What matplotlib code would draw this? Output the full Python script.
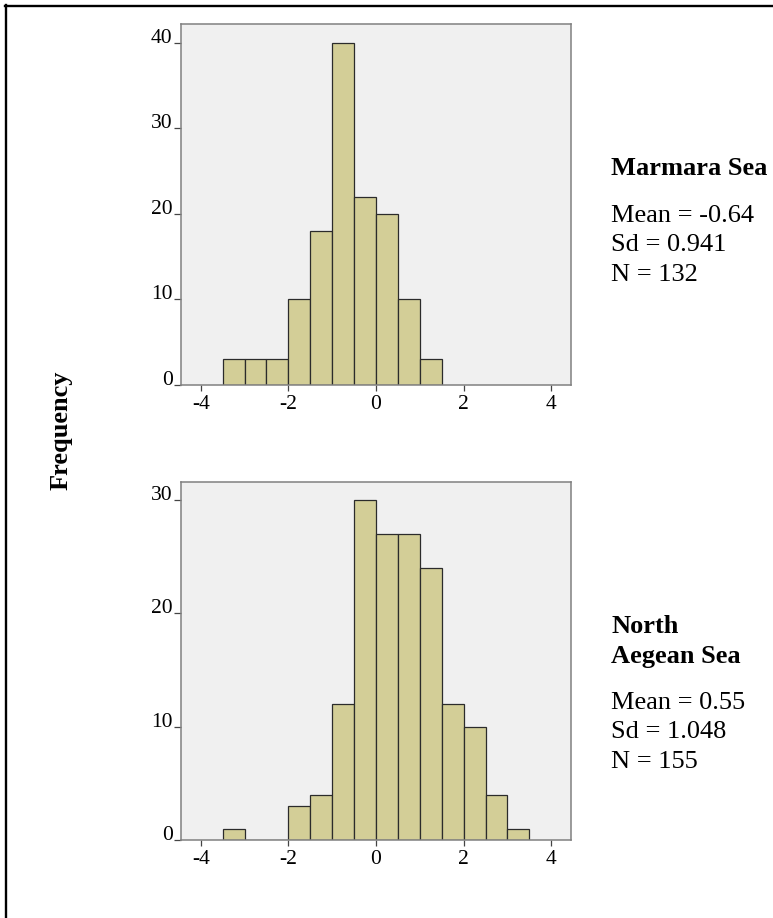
import matplotlib
matplotlib.use('Agg')
import matplotlib.pyplot as plt
from matplotlib.lines import Line2D

plt.rcParams['font.family'] = ['Liberation Serif', 'DejaVu Serif']

# histogram bins (left edges) and counts
marmara_bins = [-3.5, -3.0, -2.5, -2.0, -1.5, -1.0, -0.5, 0.0, 0.5, 1.0]
marmara_counts = [3, 3, 3, 10, 18, 40, 22, 20, 10, 3]

aegean_bins = [-3.5, -3.0, -2.5, -2.0, -1.5, -1.0, -0.5, 0.0, 0.5, 1.0, 1.5, 2.0, 2.5, 3.0]
aegean_counts = [1, 0, 0, 3, 4, 12, 30, 27, 27, 24, 12, 10, 4, 1]

bin_width = 0.5
x_ticks = [-4, -2, 0, 2, 4]
marmara_yticks = [0, 10, 20, 30, 40]
aegean_yticks = [0, 10, 20, 30]

marmara_title = ['Marmara Sea']
marmara_stats = ['Mean = -0.64', 'Sd = 0.941', 'N = 132']
aegean_title = ['North', 'Aegean Sea']
aegean_stats = ['Mean = 0.55', 'Sd = 1.048', 'N = 155']

W, H = 773, 918
fig = plt.figure(figsize=(W / 100, H / 100), dpi=100)
fig.patch.set_facecolor('white')

bar_color = '#d3ce97'
spine_color = '#808080'


def setup_axes(ax, bins, counts, yticks, ytop):
    ax.set_facecolor('#f0f0f0')
    ax.bar(bins, counts, width=bin_width, align='edge', color=bar_color,
           edgecolor='#2b2b2b', linewidth=0.9, zorder=2)
    ax.set_xlim(-4.45, 4.45)
    ax.set_ylim(0, ytop)
    ax.set_xticks(x_ticks)
    ax.set_xticklabels([str(t) for t in x_ticks])
    ax.set_yticks(yticks)
    ax.set_yticklabels([str(t) for t in yticks])
    for s in ax.spines.values():
        s.set_color(spine_color)
        s.set_linewidth(1.1)
    ax.tick_params(axis='both', labelsize=15.5, color='#444444', width=0.9)
    ax.tick_params(axis='x', length=4.5, pad=2.5)
    ax.tick_params(axis='y', length=5, pad=1)
    for lbl in ax.get_yticklabels():
        lbl.set_verticalalignment('baseline')


ax1 = fig.add_axes([181 / W, 1 - 385 / H, 390 / W, 361 / H])
setup_axes(ax1, marmara_bins, marmara_counts, marmara_yticks, 42.2)

ax2 = fig.add_axes([181 / W, 1 - 840 / H, 390 / W, 358 / H])
setup_axes(ax2, aegean_bins, aegean_counts, aegean_yticks, 31.6)

# side annotations
tx = 611 / W


def side_text(title_lines, title_y, stats, stats_y):
    for i, s in enumerate(title_lines):
        fig.text(tx, 1 - (title_y + 30 * i) / H, s, fontsize=19, fontweight='bold',
                 va='baseline', ha='left')
    for i, s in enumerate(stats):
        fig.text(tx, 1 - (stats_y + 29.3 * i) / H, s, fontsize=19,
                 va='baseline', ha='left')


side_text(marmara_title, 175, marmara_stats, 222)
side_text(aegean_title, 633, aegean_stats, 709)

fig.text(61 / W, 1 - 430 / H, 'Frequency', fontsize=19, fontweight='bold',
         rotation=90, ha='center', va='center')

# outer frame (top and left edges only)
fig.add_artist(Line2D([4.5 / W, 772 / W], [1 - 5.5 / H, 1 - 5.5 / H],
                      transform=fig.transFigure, color='black', linewidth=1.7))
fig.add_artist(Line2D([5.5 / W, 5.5 / W], [1 - 4.5 / H, 0],
                      transform=fig.transFigure, color='black', linewidth=1.7))

fig.savefig('out.png', dpi=100)
